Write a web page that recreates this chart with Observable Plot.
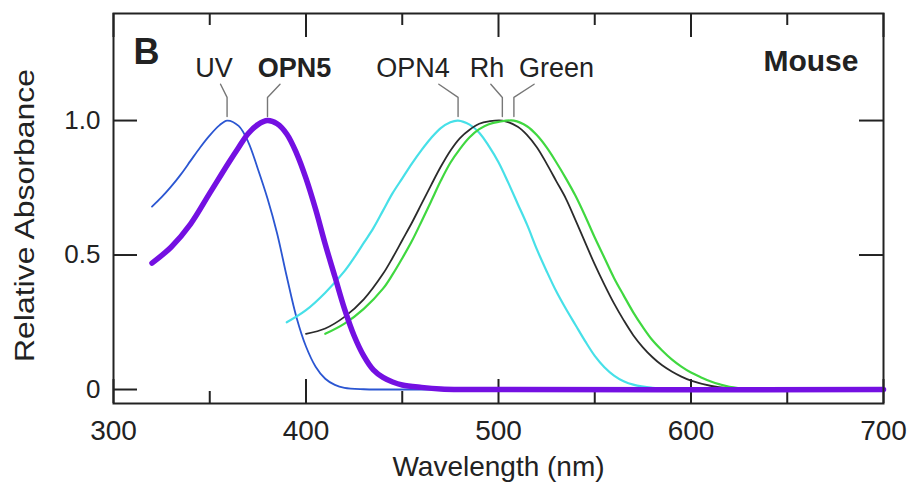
<!DOCTYPE html>
<html>
<head>
<meta charset="utf-8">
<script src="https://cdn.jsdelivr.net/npm/d3@7"></script>
<script src="https://cdn.jsdelivr.net/npm/@observablehq/plot@0.6"></script>
<style>
  html, body { margin: 0; padding: 0; background: #fff; overflow: hidden; }
  #chart { width: 908px; height: 482px; overflow: hidden; }
</style>
</head>
<body>
<div id="chart"></div>
<script>
// Mouse photopigments: relative absorbance (normalised to 1 at λmax) vs wavelength (nm)
const uvNm   = [320, 325, 330, 335, 340, 345, 350, 355, 359, 365, 370, 375, 380, 385, 390, 395, 400, 405, 410, 415, 420, 430, 440, 700];
const uvAbs  = [0.68, 0.715, 0.755, 0.8, 0.85, 0.9, 0.945, 0.982, 1.0, 0.98, 0.92, 0.82, 0.71, 0.58, 0.42, 0.27, 0.16, 0.085, 0.04, 0.017, 0.006, 0.001, 0, 0];

const opn5Nm  = [320, 330, 340, 350, 360, 365, 370, 375, 380, 385, 390, 395, 400, 405, 410, 415, 420, 425, 430, 435, 440, 445, 450, 460, 470, 480, 700];
const opn5Abs = [0.47, 0.53, 0.615, 0.73, 0.845, 0.9, 0.952, 0.985, 1.0, 0.988, 0.95, 0.88, 0.785, 0.67, 0.54, 0.42, 0.3, 0.2, 0.125, 0.073, 0.045, 0.028, 0.017, 0.008, 0.002, 0, 0];

const opn4Nm  = [390, 400, 410, 420, 425, 430, 435, 440, 445, 450, 455, 460, 465, 470, 475, 479, 485, 490, 495, 500, 505, 510, 515, 520, 525, 530, 535, 540, 545, 550, 555, 560, 565, 570, 580, 590, 600, 700];
const opn4Abs = [0.25, 0.295, 0.36, 0.44, 0.49, 0.545, 0.6, 0.665, 0.73, 0.785, 0.84, 0.89, 0.935, 0.972, 0.994, 1.0, 0.985, 0.955, 0.905, 0.845, 0.77, 0.69, 0.61, 0.52, 0.44, 0.365, 0.3, 0.24, 0.18, 0.125, 0.083, 0.052, 0.031, 0.018, 0.006, 0.002, 0, 0];

const rhNm  = [400, 410, 420, 430, 440, 445, 450, 455, 460, 465, 470, 475, 480, 485, 490, 495, 502, 510, 515, 520, 525, 530, 535, 540, 545, 550, 555, 560, 565, 570, 575, 580, 585, 590, 595, 600, 610, 620, 630, 700];
const rhAbs = [0.207, 0.227, 0.27, 0.335, 0.43, 0.49, 0.555, 0.62, 0.69, 0.76, 0.828, 0.888, 0.935, 0.966, 0.988, 0.997, 1.0, 0.977, 0.945, 0.9, 0.84, 0.775, 0.71, 0.63, 0.547, 0.465, 0.39, 0.32, 0.258, 0.202, 0.157, 0.12, 0.09, 0.067, 0.048, 0.033, 0.014, 0.004, 0, 0];

const greenNm  = [410, 420, 430, 440, 445, 450, 455, 460, 465, 470, 475, 480, 485, 490, 495, 500, 508, 515, 520, 525, 530, 535, 540, 545, 550, 555, 560, 565, 570, 575, 580, 585, 590, 595, 600, 605, 610, 615, 620, 630, 640, 700];
const greenAbs = [0.207, 0.245, 0.3, 0.375, 0.428, 0.488, 0.552, 0.625, 0.7, 0.776, 0.843, 0.895, 0.938, 0.968, 0.986, 0.995, 1.0, 0.978, 0.945, 0.9, 0.845, 0.785, 0.72, 0.645, 0.565, 0.49, 0.415, 0.35, 0.287, 0.232, 0.183, 0.145, 0.112, 0.085, 0.063, 0.046, 0.031, 0.019, 0.01, 0.002, 0, 0];

// Pigment names and their λmax (nm)
const pigmentNames = ["UV", "OPN5", "OPN4", "Rh", "Green"];
const peakNm = [359, 380, 479, 502, 508];

// Axis ticks
const xTickLabels = [300, 400, 500, 600, 700];
const xMinorTicks = [350, 450, 550, 650];
const yTickLabels = [0, 0.5, 1.0];

// ---- layout ----
const W = 908, H = 482;
const M = {top: 13, right: 25, bottom: 79, left: 113};
const frameW = W - M.left - M.right;
const frameH = H - M.top - M.bottom;
const font = '"Liberation Sans", Arial, Helvetica, sans-serif';
const ink = "#222";

// label placement above each peak: text centre and the upper end of its leader (nm)
const labelPlacement = {
  UV:    {text: 352.2, leader: 355.6},
  OPN5:  {text: 394.0, leader: 386.5},
  OPN4:  {text: 455.6, leader: 469.0},
  Rh:    {text: 494.0, leader: 496.0},
  Green: {text: 530.1, leader: 518.5}
};
const labelBaseline = 1.162, leaderTop = 1.135, leaderKink = 1.086, leaderBottom = 1.015;

const toRows = (name, nm, abs) => nm.map((x, i) => ({name, nm: x, abs: abs[i]}));
const curves = [
  {rows: toRows("UV", uvNm, uvAbs),          stroke: "#2b56d2", width: 1.8},
  {rows: toRows("OPN4", opn4Nm, opn4Abs),    stroke: "#47e0e8", width: 2.2},
  {rows: toRows("Rh", rhNm, rhAbs),          stroke: "#2b2b2b", width: 1.8},
  {rows: toRows("Green", greenNm, greenAbs), stroke: "#40d840", width: 2.2},
  {rows: toRows("OPN5", opn5Nm, opn5Abs),    stroke: "#7410e2", width: 5.5}
];

const labels = pigmentNames.map((name, i) => ({name, x: labelPlacement[name].text, peak: peakNm[i]}));
const leaders = pigmentNames.flatMap((name, i) => [
  {name, x: labelPlacement[name].leader, y: leaderTop},
  {name, x: peakNm[i], y: leaderKink},
  {name, x: peakNm[i], y: leaderBottom}
]);

const chart = Plot.plot({
  width: W, height: H,
  marginTop: M.top, marginRight: M.right, marginBottom: M.bottom, marginLeft: M.left,
  style: {fontFamily: font, color: ink, background: "#fff"},
  x: {domain: [300, 700]},
  y: {domain: [-0.052, 1.398]},
  marks: [
    Plot.axisX({ticks: xTickLabels, tickSize: 0, tickPadding: 17, fontSize: 28, label: null, tickFormat: d => String(d)}),
    Plot.axisY({ticks: yTickLabels, tickSize: 0, tickPadding: 13, fontSize: 26, label: null,
      tickFormat: d => d === 0 ? "0" : d.toFixed(1)}),

    // inward ticks on all four sides
    Plot.ruleX(xTickLabels, {stroke: ink, strokeWidth: 2, insetTop: frameH - 24}),
    Plot.ruleX(xTickLabels, {stroke: ink, strokeWidth: 2, insetBottom: frameH - 24}),
    Plot.ruleX(xMinorTicks, {stroke: ink, strokeWidth: 2, insetTop: frameH - 12}),
    Plot.ruleX(xMinorTicks, {stroke: ink, strokeWidth: 2, insetBottom: frameH - 12}),
    Plot.ruleY(yTickLabels, {stroke: ink, strokeWidth: 2, insetRight: frameW - 24}),
    Plot.ruleY(yTickLabels, {stroke: ink, strokeWidth: 2, insetLeft: frameW - 24}),

    // absorbance spectra
    ...curves.map(c => Plot.line(c.rows, {
      x: "nm", y: "abs", stroke: c.stroke, strokeWidth: c.width, curve: "catmull-rom"
    })),

    Plot.frame({stroke: ink, strokeWidth: 2}),

    // leaders from names to peaks
    Plot.line(leaders, {x: "x", y: "y", z: "name", stroke: "#777", strokeWidth: 1.4}),
    Plot.text(labels, {filter: d => d.name !== "OPN5", x: "x", y: () => labelBaseline, text: "name",
      lineAnchor: "bottom", fontSize: 27, fill: ink}),
    Plot.text(labels, {filter: d => d.name === "OPN5", x: "x", y: () => labelBaseline, text: "name",
      lineAnchor: "bottom", fontSize: 27, fontWeight: "bold", fill: ink}),

    // panel letter and species
    Plot.text(["B"], {x: () => 310.4, y: () => 1.212, text: d => d, textAnchor: "start",
      lineAnchor: "bottom", fontSize: 36, fontWeight: "bold", fill: ink}),
    Plot.text(["Mouse"], {x: () => 687, y: () => 1.186, text: d => d, textAnchor: "end",
      lineAnchor: "bottom", fontSize: 30, fontWeight: "bold", fill: ink}),

    // axis titles
    Plot.text(["Wavelength (nm)"], {text: d => d, frameAnchor: "bottom", dy: 72,
      lineAnchor: "bottom", fontSize: 28, fill: ink}),
    Plot.text(["Relative Absorbance"], {text: d => d, frameAnchor: "left", dx: -80, dy: 7,
      rotate: -90, lineAnchor: "bottom", textAnchor: "middle", fontSize: 27, fill: ink})
  ]
});

// stretch the vertical title along the frame height
chart.querySelectorAll("text").forEach(t => {
  if (t.textContent === "Relative Absorbance") {
    t.setAttribute("textLength", 293);
    t.setAttribute("lengthAdjust", "spacingAndGlyphs");
  }
});

document.getElementById("chart").appendChild(chart);
</script>
</body>
</html>
